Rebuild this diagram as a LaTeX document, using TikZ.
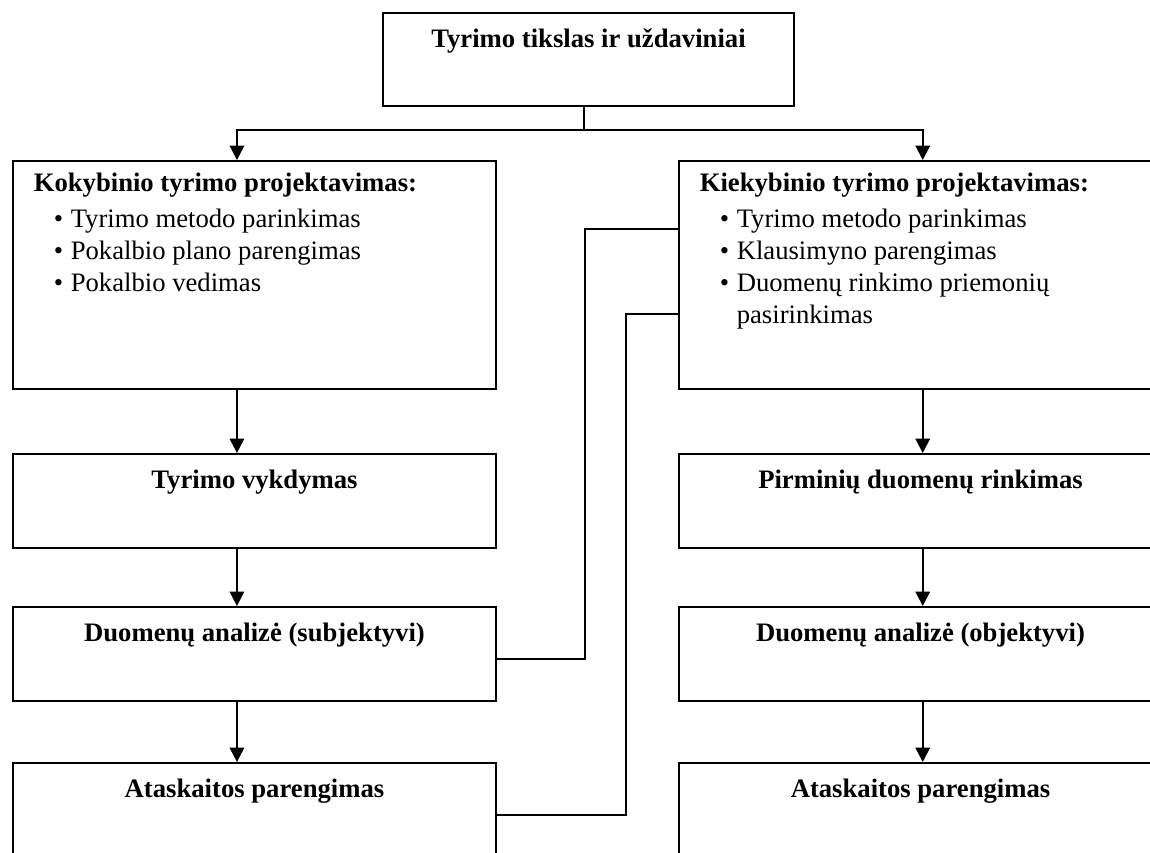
\documentclass[tikz,border=0pt]{standalone}
\usepackage{fontspec}
\setmainfont{Liberation Serif}
\usetikzlibrary{positioning,arrows.meta}
\newcommand{\bul}{\hspace*{9pt}\makebox[7.65pt][l]{\textbullet}}
\newcommand{\bulcont}{\hspace*{16.65pt}}
\tikzset{
    every node/.style={font=\fontsize{12}{14.4}\selectfont},
    stagebox/.style={draw,line width=0.9pt,minimum width=217.35pt,minimum height=42.3pt,anchor=north west,inner sep=0pt},
    boxhead/.style={font=\fontsize{12}{14.4}\selectfont\bfseries,inner sep=0pt,text height=8.2pt,text depth=2.5pt},
    boxlist/.style={inner sep=0pt,align=left},
    flow/.style={line width=0.9pt,-{Triangle[length=6.5pt,width=6.5pt]}},
    link/.style={line width=0.65pt}
}

\begin{document}
\begin{tikzpicture}[x=0.45pt,y=-0.45pt]
\useasboundingbox (0,0) rectangle (1150,852);

% top box
\node[stagebox,minimum width=184.95pt,minimum height=41.85pt] (aim) at (382,12) {};
\node[boxhead,below=7.6pt of aim.north] (aimtxt) {Tyrimo tikslas ir uždaviniai};

% left column
\node[stagebox,minimum height=102.6pt] (kok) at (12,160) {};
\node[stagebox] (vyk) at (12,453) {};
\node[stagebox] (anS) at (12,606) {};
\node[stagebox,minimum height=46.8pt] (atL) at (12,762) {};

\node[boxlist,below right=5.85pt and 9.6pt of kok.north west] (koktxt)
    {\textbf{Kokybinio tyrimo projektavimas:}\\[1.8pt]
     \bul Tyrimo metodo parinkimas\\
     \bul Pokalbio plano parengimas\\
     \bul Pokalbio vedimas};
\node[boxhead,below=7.6pt of vyk.north] (vyktxt) {Tyrimo vykdymas};
\node[boxhead,below=7.6pt of anS.north] (anStxt) {Duomenų analizė (subjektyvi)};
\node[boxhead,below=7.6pt of atL.north] (atLtxt) {Ataskaitos parengimas};

% right column
\node[stagebox,minimum height=102.6pt] (kiek) at (678,160) {};
\node[stagebox] (pirm) at (678,453) {};
\node[stagebox] (anO) at (678,606) {};
\node[stagebox,minimum height=46.8pt] (atR) at (678,762) {};

\node[boxlist,below right=5.85pt and 9.6pt of kiek.north west] (kiektxt)
    {\textbf{Kiekybinio tyrimo projektavimas:}\\[1.8pt]
     \bul Tyrimo metodo parinkimas\\
     \bul Klausimyno parengimas\\
     \bul Duomenų rinkimo priemonių\\
     \bulcont pasirinkimas};
\node[boxhead,below=7.6pt of pirm.north] (pirmtxt) {Pirminių duomenų rinkimas};
\node[boxhead,below=7.6pt of anO.north] (anOtxt) {Duomenų analizė (objektyvi)};
\node[boxhead,below=7.6pt of atR.north] (atRtxt) {Ataskaitos parengimas};

% fork from the top box
\draw[line width=0.9pt] ([xshift=-2.2pt]aim.south) -- ++(0,23) coordinate (fork);
\draw[flow] (fork) -| ([xshift=-7.9pt]kok.north);
\draw[flow] (fork) -| ([xshift=1pt]kiek.north);

% steps down each column
\foreach \a/\b in {kok/vyk,vyk/anS,anS/atL}
    \draw[flow] ([xshift=-7.9pt]\a.south) -- ([xshift=-7.9pt]\b.north);
\foreach \a/\b in {kiek/pirm,pirm/anO,anO/atR}
    \draw[flow] ([xshift=1pt]\a.south) -- ([xshift=1pt]\b.north);

% links across
\draw[link] ([yshift=-2.25pt]anS.east) -- ++(88,0) |- ([yshift=20.7pt]kiek.west);
\draw[link] (atL.east) -- ++(129,0) |- ([yshift=-17.55pt]kiek.west);
\end{tikzpicture}
\end{document}
